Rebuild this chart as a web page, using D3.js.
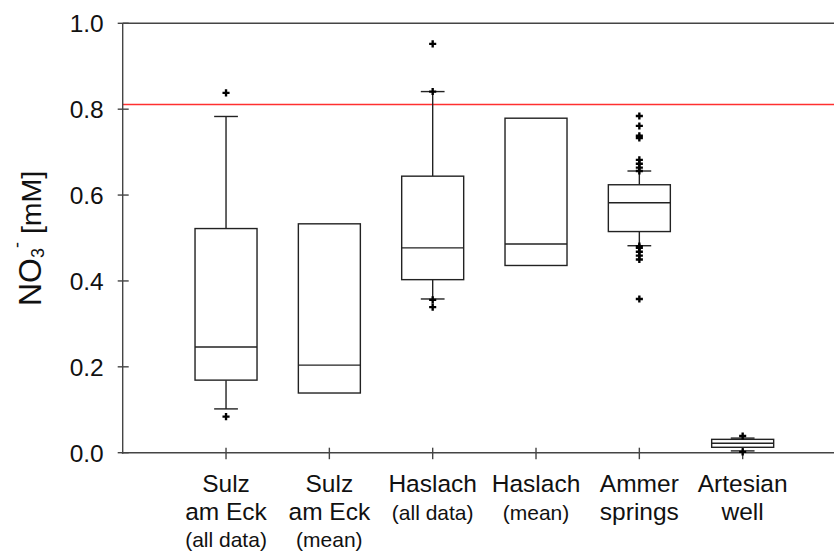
<!DOCTYPE html>
<html>
<head>
<meta charset="utf-8">
<script src="https://cdn.jsdelivr.net/npm/d3@7"></script>
<style>
  html, body { margin: 0; padding: 0; background: #fff; }
  svg { display: block; font-family: "Liberation Sans", Arial, sans-serif; }
</style>
</head>
<body>
<svg id="chart" width="834" height="553"></svg>
<script>
// ---- data ----
const labelLine1 = ["Sulz", "Sulz", "Haslach", "Haslach", "Ammer", "Artesian"];
const labelLine2 = ["am Eck", "am Eck", "(all data)", "(mean)", "springs", "well"];
const labelLine3 = ["(all data)", "(mean)", "", "", "", ""];
const smallLine2 = [false, false, true, true, false, false];

const q1      = [0.169, 0.139, 0.403, 0.436, 0.515, 0.0126];
const median  = [0.246, 0.204, 0.477, 0.486, 0.582, 0.0219];
const q3      = [0.522, 0.533, 0.644, 0.779, 0.624, 0.0311];
const whiskLo = [0.102, null, 0.358, null, 0.482, 0.0042];
const whiskHi = [0.783, null, 0.841, null, 0.656, 0.0340];
const outliers = [
  [0.838, 0.084],
  [],
  [0.952, 0.841, 0.356, 0.339],
  [],
  [0.784, 0.761, 0.738, 0.733, 0.682, 0.673, 0.664, 0.656,
   0.481, 0.477, 0.468, 0.459, 0.450, 0.358],
  [0.039, 0.002]
];
const limitValue = 0.811;
const yTicks = [0.0, 0.2, 0.4, 0.6, 0.8, 1.0];

// ---- layout ----
const svg = d3.select("#chart");
const x = d3.scaleLinear().domain([0, 7]).range([122.7, 846]);
const y = d3.scaleLinear().domain([0, 1]).range([452.7, 23.3]);
const boxHalf = 0.3;   // in category units
const capHalf = 0.115;
const ink = "#222";
const axisInk = "#444";

// frame: top line
svg.append("line")
  .attr("x1", x(0)).attr("x2", x(7))
  .attr("y1", y(1)).attr("y2", y(1))
  .attr("stroke", axisInk).attr("stroke-width", 1.4);

// limit line (red)
svg.append("line")
  .attr("x1", x(0)).attr("x2", x(7))
  .attr("y1", y(limitValue)).attr("y2", y(limitValue))
  .attr("stroke", "#ff3030").attr("stroke-width", 1.4);

// y axis
const yAxis = svg.append("g");
yAxis.append("line")
  .attr("x1", x(0)).attr("x2", x(0))
  .attr("y1", y(1)).attr("y2", y(0) + 1)
  .attr("stroke", axisInk).attr("stroke-width", 1.4);
yAxis.selectAll("line.tick").data(yTicks).join("line")
  .attr("class", "tick")
  .attr("x1", x(0) - 5).attr("x2", x(0) + 6)
  .attr("y1", d => y(d)).attr("y2", d => y(d))
  .attr("stroke", axisInk).attr("stroke-width", 1.4);
yAxis.selectAll("text").data(yTicks).join("text")
  .attr("x", x(0) - 19).attr("y", d => y(d))
  .attr("dy", "0.36em")
  .attr("text-anchor", "end")
  .attr("font-size", 24.5)
  .attr("fill", "#111")
  .text(d => d3.format(".1f")(d));

// x axis
const cats = d3.range(1, 7);
const xAxis = svg.append("g");
xAxis.append("line")
  .attr("x1", x(0) - 1).attr("x2", x(7))
  .attr("y1", y(0)).attr("y2", y(0))
  .attr("stroke", axisInk).attr("stroke-width", 1.4);
xAxis.selectAll("line.tick").data(cats).join("line")
  .attr("class", "tick")
  .attr("x1", d => x(d)).attr("x2", d => x(d))
  .attr("y1", y(0) - 5).attr("y2", y(0) + 6.5)
  .attr("stroke", axisInk).attr("stroke-width", 1.4);

// category labels
const lab = svg.append("g").attr("text-anchor", "middle").attr("fill", "#111");
cats.forEach((c, i) => {
  lab.append("text").attr("x", x(c)).attr("y", 491.5)
    .attr("font-size", 24.5).text(labelLine1[i]);
  lab.append("text").attr("x", x(c)).attr("y", 520)
    .attr("font-size", smallLine2[i] ? 21 : 24.5).text(labelLine2[i]);
  if (labelLine3[i]) {
    lab.append("text").attr("x", x(c)).attr("y", 547)
      .attr("font-size", 21).text(labelLine3[i]);
  }
});

// y axis title
const title = svg.append("text")
  .attr("transform", "translate(41,306) rotate(-90)")
  .attr("text-anchor", "start")
  .attr("fill", "#111");
title.append("tspan").attr("font-size", 32).text("NO");
title.append("tspan").attr("font-size", 18).attr("dy", 3).text("3");
title.append("tspan").attr("font-size", 18).attr("dy", -21).text("-");
title.append("tspan").attr("font-size", 28.5).attr("dy", 18).text(" [mM]");

// boxes
const boxes = svg.append("g");
cats.forEach((c, i) => {
  const g = boxes.append("g");
  if (whiskHi[i] !== null) {
    g.append("line").attr("x1", x(c)).attr("x2", x(c))
      .attr("y1", y(q3[i])).attr("y2", y(whiskHi[i]))
      .attr("stroke", ink).attr("stroke-width", 1.4);
    g.append("line").attr("x1", x(c - capHalf)).attr("x2", x(c + capHalf))
      .attr("y1", y(whiskHi[i])).attr("y2", y(whiskHi[i]))
      .attr("stroke", ink).attr("stroke-width", 1.4);
  }
  if (whiskLo[i] !== null) {
    g.append("line").attr("x1", x(c)).attr("x2", x(c))
      .attr("y1", y(q1[i])).attr("y2", y(whiskLo[i]))
      .attr("stroke", ink).attr("stroke-width", 1.4);
    g.append("line").attr("x1", x(c - capHalf)).attr("x2", x(c + capHalf))
      .attr("y1", y(whiskLo[i])).attr("y2", y(whiskLo[i]))
      .attr("stroke", ink).attr("stroke-width", 1.4);
  }
  g.append("rect")
    .attr("x", x(c - boxHalf)).attr("width", x(c + boxHalf) - x(c - boxHalf))
    .attr("y", y(q3[i])).attr("height", y(q1[i]) - y(q3[i]))
    .attr("fill", "#fff").attr("stroke", ink).attr("stroke-width", 1.4);
  g.append("line").attr("x1", x(c - boxHalf)).attr("x2", x(c + boxHalf))
    .attr("y1", y(median[i])).attr("y2", y(median[i]))
    .attr("stroke", ink).attr("stroke-width", 1.4);
  const sym = d3.symbol().type(d3.symbolCross).size(28);
  g.selectAll("path.out").data(outliers[i]).join("path")
    .attr("class", "out")
    .attr("transform", d => `translate(${x(c)},${y(d)})`)
    .attr("d", sym)
    .attr("fill", "#000");
});
</script>
</body>
</html>
